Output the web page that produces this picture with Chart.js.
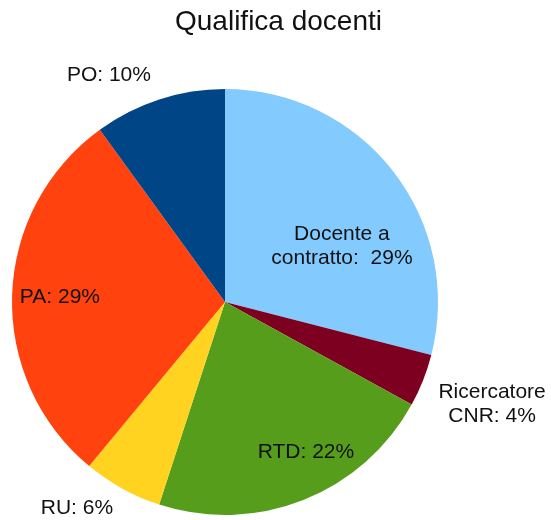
<!DOCTYPE html>
<html>
<head>
<meta charset="utf-8">
<script src="https://cdn.jsdelivr.net/npm/chart.js@4/dist/chart.umd.min.js"></script>
<style>
  html, body { margin: 0; padding: 0; background: #ffffff; }
  #wrap { width: 551px; height: 520px; position: relative; }
</style>
</head>
<body>
<div id="wrap"><canvas id="c"></canvas></div>
<script>
const chartTitle = "Qualifica docenti";
const categories = ["Docente a contratto", "Ricercatore CNR", "RTD", "RU", "PA", "PO"];
const values = [29, 4, 22, 6, 29, 10];
const colors = ["#83CAFF", "#7E0021", "#579D1C", "#FFD320", "#FF420E", "#004586"];
// Label text lines (as shown in the picture)
const labelLines = [
  ["Docente a", "contratto:  29%"],
  ["Ricercatore", "CNR: 4%"],
  ["RTD: 22%"],
  ["RU: 6%"],
  ["PA: 29%"],
  ["PO: 10%"]
];
// Label placement relative to pie centre, in units of the radius
const labelPos = [
  [0.549, -0.263, "center"],
  [1.254, 0.481, "center"],
  [0.380, 0.704, "center"],
  [-0.695, 0.967, "center"],
  [-0.775, -0.023, "center"],
  [-0.545, -1.066, "center"]
];

const labelPlugin = {
  id: "sliceLabels",
  afterDatasetsDraw(chart) {
    const ctx = chart.ctx;
    const meta = chart.getDatasetMeta(0);
    ctx.save();
    ctx.fillStyle = "#111111";
    ctx.font = "21px 'Liberation Sans', Arial, sans-serif";
    ctx.textBaseline = "middle";
    meta.data.forEach((arc, i) => {
      const r = arc.outerRadius;
      const p = labelPos[i];
      const cx = arc.x + p[0] * r;
      const cy = arc.y + p[1] * r;
      ctx.textAlign = p[2];
      const lines = labelLines[i];
      const lh = 24;
      const y0 = cy - (lines.length - 1) * lh / 2;
      lines.forEach((t, k) => ctx.fillText(t, cx, y0 + k * lh));
    });
    // title
    ctx.font = "28px 'Liberation Sans', Arial, sans-serif";
    ctx.textAlign = "center";
    ctx.fillStyle = "#111111";
    ctx.fillText(chartTitle, chart.width / 2 + 3, 22);
    ctx.restore();
  }
};

new Chart(document.getElementById("c"), {
  type: "pie",
  data: {
    labels: categories,
    datasets: [{
      data: values,
      backgroundColor: colors,
      borderWidth: 0
    }]
  },
  options: {
    responsive: true,
    maintainAspectRatio: false,
    animation: false,
    layout: { padding: { top: 89, bottom: 5, left: 12, right: 113 } },
    plugins: {
      legend: { display: false },
      title: { display: false },
      tooltip: { enabled: false }
    }
  },
  plugins: [labelPlugin]
});
</script>
</body>
</html>
